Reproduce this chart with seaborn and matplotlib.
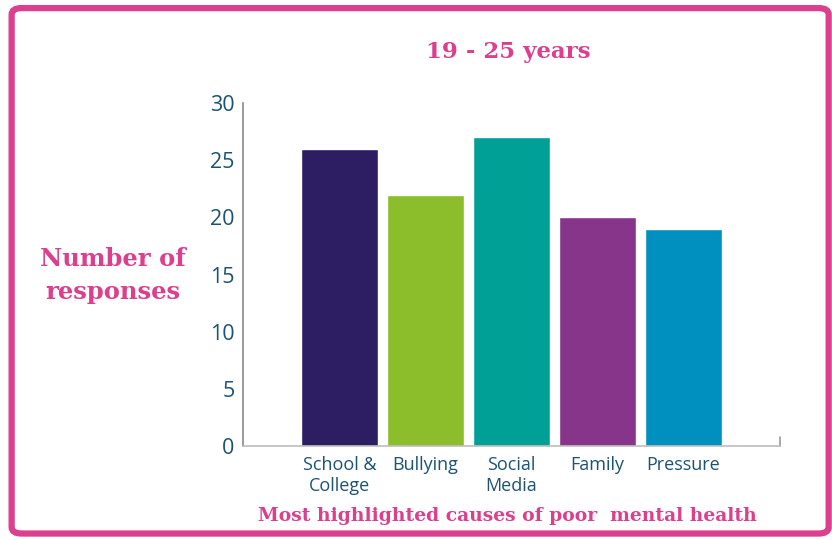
import matplotlib
matplotlib.use("Agg")
import matplotlib.pyplot as plt
import seaborn as sns
import pandas as pd
from matplotlib.patches import FancyBboxPatch

categories = ["School &\nCollege", "Bullying", "Social\nMedia", "Family", "Pressure"]
responses = [26, 22, 27, 20, 19]
bar_colors = ["#2d1d63", "#8cbd2a", "#00a096", "#86358a", "#0090c0"]
y_ticks = [0, 5, 10, 15, 20, 25, 30]

title = "19 - 25 years"
y_label = "Number of\nresponses"
x_label = "Most highlighted causes of poor  mental health"

PINK = "#db3f8d"
TEAL = "#1b5473"

sns.set_theme(style="white")
plt.rcParams["font.family"] = ["Open Sans", "DejaVu Sans"]

df = pd.DataFrame({"cause": categories, "n": responses})

fig = plt.figure(figsize=(8.32, 5.40), dpi=100)
ax = fig.add_axes([0.292, 0.174, 0.6455, 0.635])

sns.barplot(data=df, x="cause", y="n", hue="cause", palette=bar_colors,
            width=0.895, dodge=False, legend=False, ax=ax, saturation=1)

ax.set_xlim(-1.12, 5.12)
ax.set_ylim(0, 30)
ax.set_yticks(y_ticks)
ax.tick_params(axis="y", direction="in", length=9.5, width=1.2, color="#8a8a8a",
               labelsize=15.5, labelcolor=TEAL, pad=6)
ax.tick_params(axis="x", length=0, labelsize=13, labelcolor=TEAL, pad=7)
for lab in ax.get_xticklabels():
    lab.set_linespacing(1.2)
    lab.set_verticalalignment("top")

for s in ["top", "right"]:
    ax.spines[s].set_visible(False)
ax.spines["left"].set_color("#8a8a8a")
ax.spines["bottom"].set_color("#bdbdbd")
ax.spines["left"].set_linewidth(1.2)
ax.spines["bottom"].set_linewidth(1.2)
ax.plot([1, 1], [0, 0.025], transform=ax.transAxes, color="#9a9a9a", lw=1.2, clip_on=False)

ax.set_xlabel("")
ax.set_ylabel("")

fig.text(0.611, 0.903, title, ha="center", va="center", color=PINK, fontsize=16.5,
         fontweight="bold", family=["DejaVu Serif"])
fig.text(0.136, 0.490, y_label, ha="center", va="center", color=PINK, fontsize=17.5,
         fontweight="bold", family=["DejaVu Serif"], linespacing=1.45)
fig.text(0.61, 0.044, x_label, ha="center", va="center", color=PINK, fontsize=13.5,
         fontweight="bold", family=["DejaVu Serif"])

border = FancyBboxPatch((0.014, 0.012), 0.982, 0.973, boxstyle="round,pad=0,rounding_size=0.012",
                        transform=fig.transFigure, fill=False, edgecolor=PINK, linewidth=4.5)
fig.patches.append(border)

fig.savefig("out.png", dpi=100)
